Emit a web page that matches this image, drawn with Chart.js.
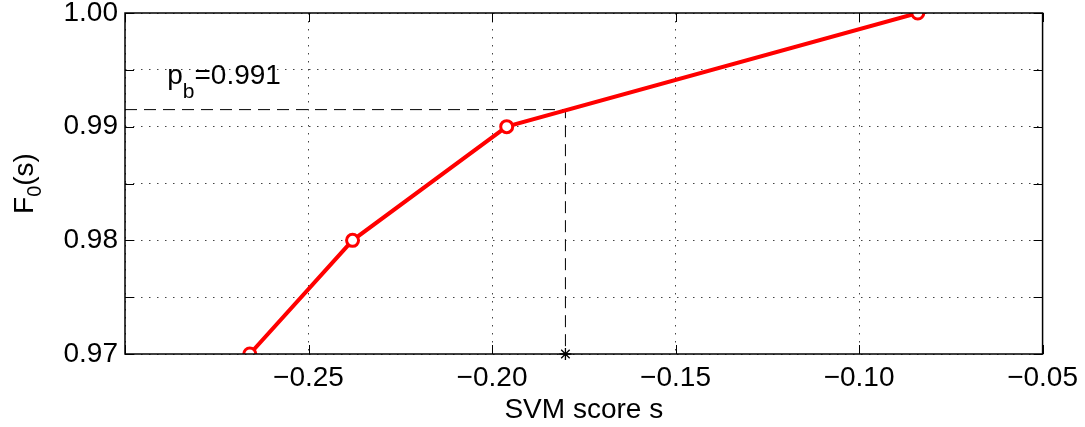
<!DOCTYPE html>
<html>
<head>
<meta charset="utf-8">
<script src="https://cdn.jsdelivr.net/npm/chart.js@4/dist/chart.umd.min.js"></script>
<style>
  html, body { margin: 0; padding: 0; background: #fff; }
  #wrap { width: 1085px; height: 427px; }
</style>
</head>
<body>
<div id="wrap"><canvas id="cdfChart" width="1085" height="427"></canvas></div>
<script>
// data
const svmScores = [-0.266, -0.238, -0.196, -0.084];
const f0Values = [0.97, 0.98, 0.99, 1.00];
const pbValue = 0.9915;      // p_b level (dashed horizontal)
const pbScore = -0.18;       // score where F0 reaches p_b
const pbLabel = '0.991';
const xTickRange = [-0.30, -0.05];
const yTickRange = [0.97, 1.00];

const FONT = '"Liberation Sans", Arial, Helvetica, sans-serif';

// MATLAB style: box around axes and inward tick marks, plus the labels with subscripts
const boxPlugin = {
    id: 'boxPlugin',
    afterDraw(chart) {
        const c = chart.ctx;
        const a = chart.chartArea;
        const xs = chart.scales.x;
        const ys = chart.scales.y;
        const tl = 9;
        c.save();
        c.strokeStyle = '#000';
        c.lineWidth = 1;
        xs.ticks.forEach(t => {
            const px = Math.round(xs.getPixelForValue(t.value)) + 0.5;
            c.beginPath();
            c.moveTo(px, a.bottom); c.lineTo(px, a.bottom - tl);
            c.moveTo(px, a.top); c.lineTo(px, a.top + tl);
            c.stroke();
        });
        ys.ticks.forEach(t => {
            const py = Math.round(ys.getPixelForValue(t.value)) + 0.5;
            c.beginPath();
            c.moveTo(a.left, py); c.lineTo(a.left + tl, py);
            c.moveTo(a.right, py); c.lineTo(a.right - tl, py);
            c.stroke();
        });
        c.lineWidth = 1.5;
        c.strokeRect(a.left, a.top, a.right - a.left, a.bottom - a.top);

        // asterisk marker at (pbScore, bottom)
        const sx = xs.getPixelForValue(pbScore);
        const sy = ys.getPixelForValue(yTickRange[0]);
        c.lineWidth = 1.3;
        c.beginPath();
        for (let k = 0; k < 4; k++) {
            const ang = k * Math.PI / 4;
            c.moveTo(sx - 6 * Math.cos(ang), sy - 6 * Math.sin(ang));
            c.lineTo(sx + 6 * Math.cos(ang), sy + 6 * Math.sin(ang));
        }
        c.stroke();

        // y axis title F_0(s)
        c.fillStyle = '#000';
        c.textBaseline = 'alphabetic';
        const big = '28px ' + FONT;
        const small = '20px ' + FONT;
        c.font = big;
        const wF = c.measureText('F').width;
        const wS = c.measureText('(s)').width;
        c.font = small;
        const w0 = c.measureText('0').width;
        const total = wF + w0 + wS;
        c.save();
        c.translate(33, (a.top + a.bottom) / 2);
        c.rotate(-Math.PI / 2);
        let x0 = -total / 2;
        c.font = big;
        c.fillText('F', x0, 0);
        c.font = small;
        c.fillText('0', x0 + wF, 8);
        c.font = big;
        c.fillText('(s)', x0 + wF + w0, 0);
        c.restore();

        // p_b annotation
        let px = xs.getPixelForValue(-0.2885);
        const py = ys.getPixelForValue(0.99375);
        c.font = big;
        c.fillText('p', px, py);
        px += c.measureText('p').width;
        c.font = '21px ' + FONT;
        c.fillText('b', px, py + 14);
        px += c.measureText('b').width;
        c.font = big;
        c.fillText('=' + pbLabel, px, py);
        c.restore();
    }
};

function near(v, step) {
    return Math.abs(Math.round(v / step) * step - v) < 1e-9;
}

const ctx = document.getElementById('cdfChart').getContext('2d');
const cdfChart = new Chart(ctx, {
    type: 'scatter',
    data: {
        datasets: [
            {
                label: 'F0',
                data: svmScores.map((s, i) => ({ x: s, y: f0Values[i] })),
                showLine: true,
                borderColor: '#ff0000',
                borderWidth: 4,
                pointRadius: 6,
                pointBorderWidth: 3,
                pointBorderColor: '#ff0000',
                pointBackgroundColor: '#ffffff',
                order: 0
            },
            {
                label: 'guide',
                data: [
                    { x: xTickRange[0], y: pbValue },
                    { x: pbScore, y: pbValue },
                    { x: pbScore, y: yTickRange[0] }
                ],
                showLine: true,
                borderColor: '#000',
                borderWidth: 1,
                borderDash: [12, 7],
                pointRadius: 0,
                order: 2
            }
        ]
    },
    options: {
        responsive: false,
        animation: false,
        events: [],
        layout: { padding: { top: 13, right: 41, left: 0, bottom: 0 } },
        plugins: {
            legend: { display: false },
            tooltip: { enabled: false }
        },
        scales: {
            x: {
                type: 'linear',
                min: xTickRange[0],
                max: xTickRange[1],
                afterFit: s => { s.height = 73; },
                ticks: {
                    stepSize: 0.05,
                    padding: 7,
                    color: '#000',
                    font: { family: FONT, size: 28 },
                    maxRotation: 0,
                    callback: v => near(v, 0.3) && v < -0.29 ? '' : (v < 0 ? '\u2212' : '') + Math.abs(v).toFixed(2)
                },
                grid: {
                    color: '#444',
                    lineWidth: 1,
                    drawTicks: false
                },
                border: { display: false, dash: [1.5, 6.5] },
                title: {
                    display: true,
                    text: 'SVM score s',
                    color: '#000',
                    font: { family: FONT, size: 28 },
                    padding: { top: -4, bottom: 0 }
                }
            },
            y: {
                min: yTickRange[0],
                max: yTickRange[1],
                afterFit: s => { s.width = 125; s.paddingTop = 0; s.paddingBottom = 0; },
                ticks: {
                    stepSize: 0.005,
                    padding: 7,
                    color: '#000',
                    font: { family: FONT, size: 28 },
                    callback: v => near(v, 0.01) ? v.toFixed(2) : ''
                },
                grid: {
                    color: '#444',
                    lineWidth: 1,
                    drawTicks: false
                },
                border: { display: false, dash: [1.5, 6.5] }
            }
        }
    },
    plugins: [boxPlugin]
});
</script>
</body>
</html>
